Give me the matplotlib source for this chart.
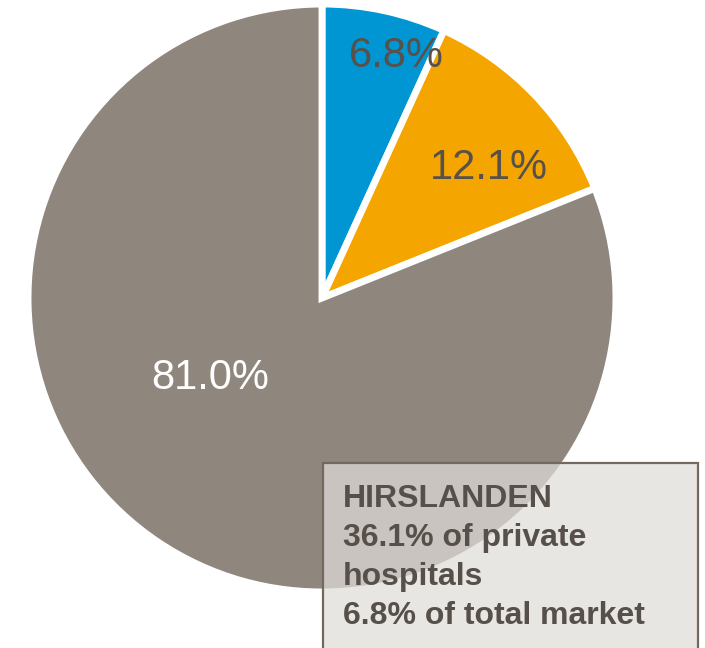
import matplotlib
matplotlib.use("Agg")
import matplotlib.pyplot as plt
from matplotlib.patches import Rectangle

labels = ["6.8%", "12.1%", "81.0%"]
shares = [6.8, 12.1, 81.0]
colors = ["#0095D3", "#F5A500", "#8F867E"]
label_colors = ["#58504A", "#58504A", "white"]
label_pos = [(0.253, 0.822), (0.568, 0.442), (-0.380, -0.271)]
box_lines = ["HIRSLANDEN", "36.1% of private", "hospitals", "6.8% of total market"]

plt.rcParams["font.family"] = ["Liberation Sans", "DejaVu Sans"]

W, H = 705, 648
cx, cy, r = 322, 298, 294
fig = plt.figure(figsize=(W / 100, H / 100), dpi=100)
ax = fig.add_axes([0, 0, 1, 1])
ax.pie(shares, colors=colors, startangle=90, counterclock=False, radius=1,
       wedgeprops=dict(edgecolor="white", linewidth=5))
ax.set_xlim(-cx / r, (W - cx) / r)
ax.set_ylim(-(H - cy) / r, cy / r)
ax.set_aspect("equal")
ax.axis("off")

for lab, (x, y), c in zip(labels, label_pos, label_colors):
    ax.text(x, y, lab, color=c, fontsize=30, ha="center", va="center")

# callout box (semi-transparent)
fig.patches.append(Rectangle((323 / W, -0.05), (698 - 323) / W, 0.05 + 1 - 463 / H,
                             transform=fig.transFigure, facecolor="#E0DDD9", alpha=0.72,
                             edgecolor="none"))
fig.patches.append(Rectangle((323 / W, -0.05), (698 - 323) / W, 0.05 + 1 - 463 / H,
                             transform=fig.transFigure, facecolor="none",
                             edgecolor="#74695F", linewidth=1.6))
fig.text(343 / W, 1 - 484 / H, "\n".join(box_lines), color="#57504A", fontsize=23,
         fontweight="bold", ha="left", va="top", linespacing=1.39)

fig.savefig("out.png", dpi=100)
